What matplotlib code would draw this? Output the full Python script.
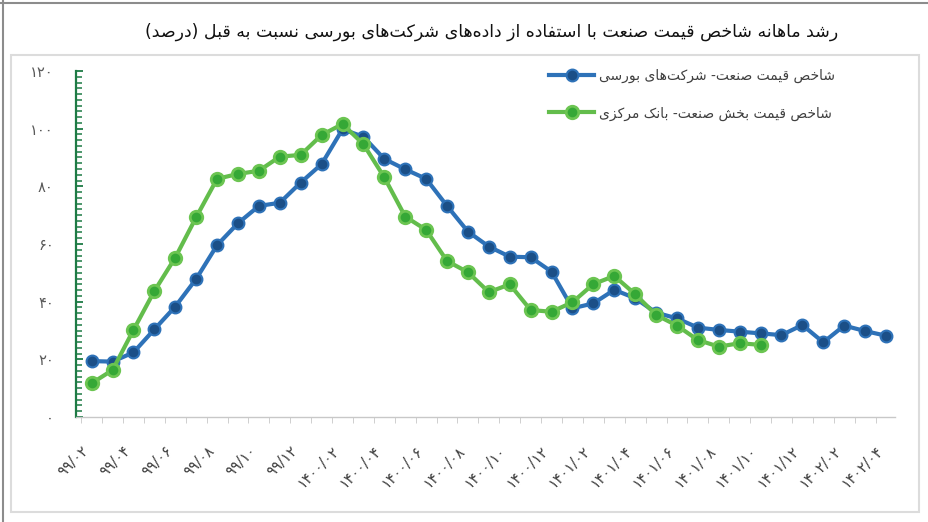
import matplotlib
matplotlib.use('Agg')
import matplotlib.pyplot as plt
from matplotlib.lines import Line2D
from matplotlib.patches import Rectangle
from matplotlib.ticker import MultipleLocator, FixedLocator

# Persian text needs manual shaping: presentation forms (iso, fin, ini, med)
FORMS = {
    '\u0627': (0xFE8D, 0xFE8E, None, None),
    '\u0628': (0xFE8F, 0xFE90, 0xFE91, 0xFE92),
    '\u062A': (0xFE95, 0xFE96, 0xFE97, 0xFE98),
    '\u062E': (0xFEA5, 0xFEA6, 0xFEA7, 0xFEA8),
    '\u062F': (0xFEA9, 0xFEAA, None, None),
    '\u0631': (0xFEAD, 0xFEAE, None, None),
    '\u0632': (0xFEAF, 0xFEB0, None, None),
    '\u0633': (0xFEB1, 0xFEB2, 0xFEB3, 0xFEB4),
    '\u0634': (0xFEB5, 0xFEB6, 0xFEB7, 0xFEB8),
    '\u0635': (0xFEB9, 0xFEBA, 0xFEBB, 0xFEBC),
    '\u0639': (0xFEC9, 0xFECA, 0xFECB, 0xFECC),
    '\u0641': (0xFED1, 0xFED2, 0xFED3, 0xFED4),
    '\u0642': (0xFED5, 0xFED6, 0xFED7, 0xFED8),
    '\u0644': (0xFEDD, 0xFEDE, 0xFEDF, 0xFEE0),
    '\u0645': (0xFEE1, 0xFEE2, 0xFEE3, 0xFEE4),
    '\u0646': (0xFEE5, 0xFEE6, 0xFEE7, 0xFEE8),
    '\u0647': (0xFEE9, 0xFEEA, 0xFEEB, 0xFEEC),
    '\u0648': (0xFEED, 0xFEEE, None, None),
    '\u06A9': (0xFB8E, 0xFB8F, 0xFB90, 0xFB91),
    '\u06CC': (0xFBFC, 0xFBFD, 0xFBFE, 0xFBFF),
}
MIRROR = {'(': ')', ')': '('}


def fa(text):
    """Shape Persian text and put it in visual (left-to-right) order."""
    out = []
    for i, c in enumerate(text):
        if c not in FORMS:
            out.append(c)
            continue
        prev = text[i - 1] if i > 0 else ''
        nxt = text[i + 1] if i + 1 < len(text) else ''
        jp = prev in FORMS and FORMS[prev][2] is not None
        jn = nxt in FORMS and FORMS[c][2] is not None
        if jp and jn:
            k = 3
        elif jp:
            k = 1
        elif jn:
            k = 2
        else:
            k = 0
        out.append(chr(FORMS[c][k]))
    s = ''.join(ch for ch in out if ch != '\u200c')
    return ''.join(MIRROR.get(ch, ch) for ch in reversed(s))


title = 'رشد ماهانه شاخص قیمت صنعت با استفاده از داده‌های شرکت‌های بورسی نسبت به قبل (درصد)'
label_bourse = 'شاخص قیمت صنعت- شرکت‌های بورسی'
label_cbi = 'شاخص قیمت بخش صنعت- بانک مرکزی'

# months 99/02 .. 1402/04, labels shown every other month
month_labels = ['۹۹/۰۲', '۹۹/۰۴', '۹۹/۰۶', '۹۹/۰۸', '۹۹/۱۰', '۹۹/۱۲',
                '۱۴۰۰/۰۲', '۱۴۰۰/۰۴', '۱۴۰۰/۰۶', '۱۴۰۰/۰۸', '۱۴۰۰/۱۰', '۱۴۰۰/۱۲',
                '۱۴۰۱/۰۲', '۱۴۰۱/۰۴', '۱۴۰۱/۰۶', '۱۴۰۱/۰۸', '۱۴۰۱/۱۰', '۱۴۰۱/۱۲',
                '۱۴۰۲/۰۲', '۱۴۰۲/۰۴']

bourse = [19.4, 19.2, 22.4, 30.4, 38.3, 47.9, 59.6, 67.2, 73.2, 74.3,
          81.3, 87.7, 99.8, 97.2, 89.5, 85.9, 82.6, 73.2, 64.3, 59.1,
          55.6, 55.4, 50.4, 37.7, 39.4, 44.1, 41.2, 36.2, 34.2, 31.0,
          30.2, 29.6, 29.0, 28.4, 31.9, 25.9, 31.7, 29.8, 28.2]

cbi = [11.7, 16.3, 30.2, 43.7, 55.3, 69.3, 82.6, 84.3, 85.4, 90.3,
       90.9, 97.8, 101.6, 94.6, 83.1, 69.5, 64.9, 54.1, 50.2, 43.3,
       46.0, 37.1, 36.5, 39.8, 46.1, 48.9, 42.6, 35.4, 31.7, 26.7,
       24.4, 25.6, 25.0]

y_ticks = [0, 20, 40, 60, 80, 100, 120]
y_labels = ['۰', '۲۰', '۴۰', '۶۰', '۸۰', '۱۰۰', '۱۲۰']

fig = plt.figure(figsize=(9.29, 5.22), dpi=100)
ax = fig.add_axes([76 / 929, 105 / 522, 819 / 929, 346 / 522])

# frames around the chart
fig.add_artist(Line2D([3 / 929, 3 / 929], [0, 1], color='#8c8c8c', lw=1.5))
fig.add_artist(Line2D([0, 1], [519 / 522, 519 / 522], color='#8c8c8c', lw=1.5))
fig.add_artist(Rectangle((11 / 929, 10 / 522), 908 / 929, 457 / 522,
                         fill=False, edgecolor='#dcdcdc', lw=1.5))

fig.text(492 / 929, 490 / 522, fa(title), ha='center', va='center',
         fontsize=12.5, color='#111111', family='DejaVu Sans')

xb = list(range(len(bourse)))
xc = list(range(len(cbi)))
ax.plot(xb, bourse, color='#2e72b8', lw=3, marker='o', ms=8.5,
        mfc='#1b4f87', mec='#2e72b8', mew=1.5, label=fa(label_bourse), zorder=3)
ax.plot(xc, cbi, color='#63bd4c', lw=3, marker='o', ms=9,
        mfc='#35a836', mec='#6cc552', mew=2, label=fa(label_cbi), zorder=4)

ax.set_ylim(0, 120)
ax.set_xlim(-0.75, 38.43)

ax.set_yticks(y_ticks)
ax.set_yticklabels(y_labels)
ax.yaxis.set_minor_locator(MultipleLocator(2))
ax.tick_params(axis='y', which='both', direction='in', color='#1e7b45',
               labelcolor='#595959', labelsize=10.5, pad=16)
ax.tick_params(axis='y', which='major', length=5, width=1.3)
ax.tick_params(axis='y', which='minor', length=4, width=1.1)

ax.set_xticks(range(0, len(bourse), 2))
ax.set_xticklabels(month_labels, rotation=45, ha='right', va='top')
ax.xaxis.set_minor_locator(FixedLocator([i + 0.5 for i in range(-1, 39)]))
ax.tick_params(axis='x', which='major', length=0, pad=19,
               labelcolor='#404040', labelsize=10.5)
ax.tick_params(axis='x', which='minor', length=4, color='#c8c8c8', direction='out')

for side in ('top', 'right'):
    ax.spines[side].set_visible(False)
ax.spines['left'].set_color('#1e7b45')
ax.spines['left'].set_linewidth(1.6)
ax.spines['bottom'].set_color('#c8c8c8')
ax.spines['bottom'].set_linewidth(1)

leg = ax.legend(loc='upper left', bbox_to_anchor=(537 / 929, 466 / 522),
                bbox_transform=fig.transFigure, frameon=False, fontsize=10,
                handlelength=3.2, handletextpad=0.35, labelspacing=1.7)
for t in leg.get_texts():
    t.set_color('#404040')

fig.savefig('out.png', dpi=100)
